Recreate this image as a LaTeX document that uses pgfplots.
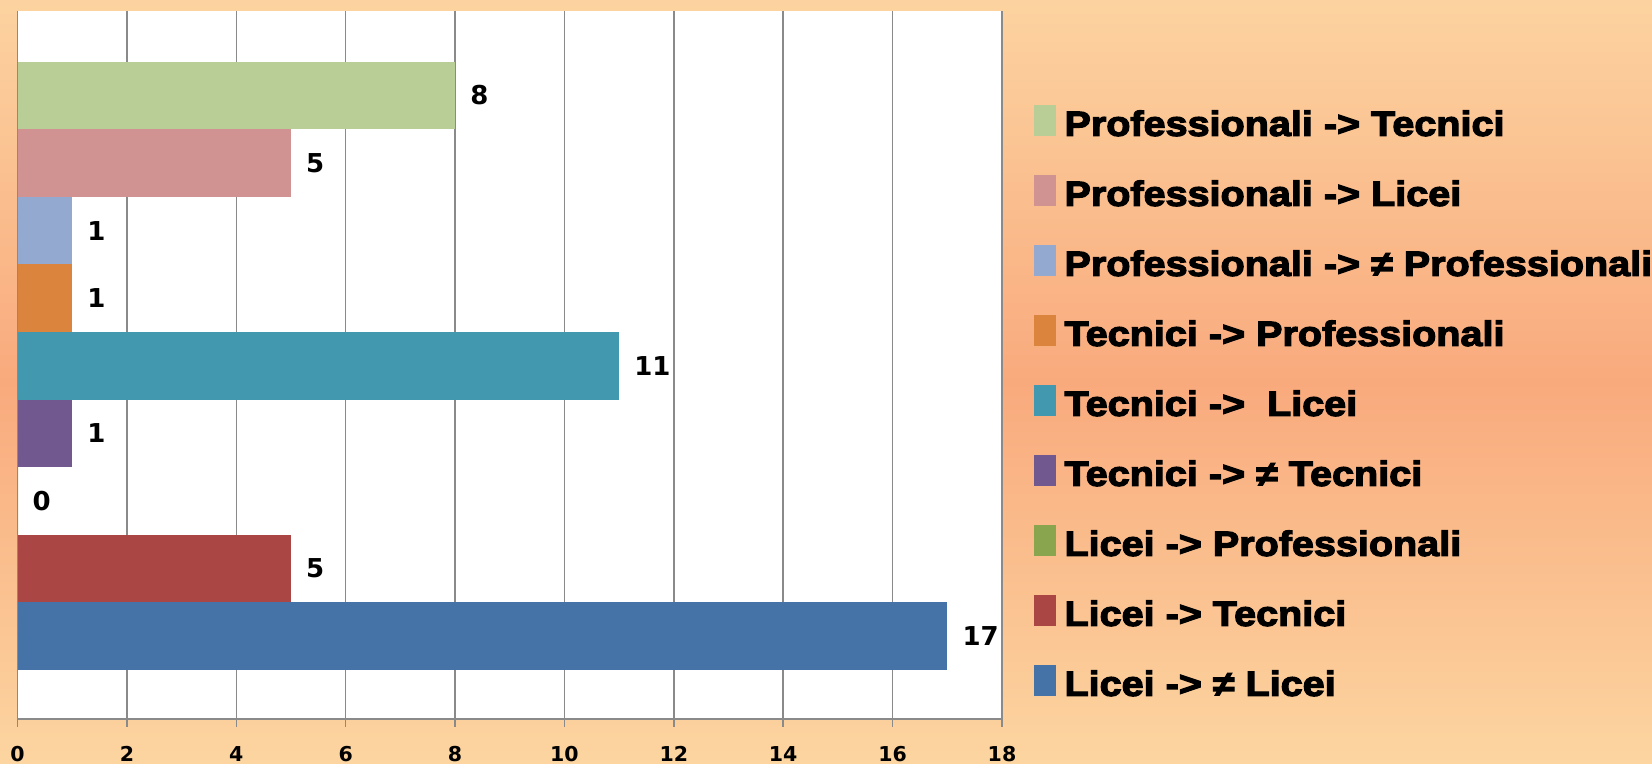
\documentclass[border=0pt]{standalone}
\usepackage{pgfplots}
\pgfplotsset{compat=1.18}
\usepackage{fontspec}
\newfontfamily\dv{DejaVu Sans}
\newfontfamily\lib{Liberation Sans}[BoldFeatures={FakeStretch=1.13,FakeBold=3.5}]
\definecolor{c1}{HTML}{4572A7}
\definecolor{c2}{HTML}{AA4643}
\definecolor{c3}{HTML}{89A54E}
\definecolor{c4}{HTML}{71588F}
\definecolor{c5}{HTML}{4198AF}
\definecolor{c6}{HTML}{DB843D}
\definecolor{c7}{HTML}{93A9CF}
\definecolor{c8}{HTML}{D19392}
\definecolor{c9}{HTML}{B9CD96}
\definecolor{bgtop}{HTML}{FCD3A0}
\definecolor{bgmid}{HTML}{F9AA7D}
\definecolor{bgbot}{HTML}{FCD5A0}
\definecolor{gridgray}{HTML}{8A8A8A}
\begin{document}
\begin{tikzpicture}
\shade[top color=bgtop, bottom color=bgbot, middle color=bgmid] (0,0) rectangle (1652bp,764bp);
\begin{axis}[
  at={(17.5bp,45bp)}, anchor=south west,
  scale only axis, width=984.5bp, height=708bp,
  xmin=0, xmax=18, ymin=0, ymax=10.473,
  xtick={0,2,...,18}, ytick=\empty,
  axis x line*=bottom, axis y line*=left,
  axis line style={draw=gridgray, line width=1.5bp},
  xmajorgrids, major grid style={draw=gridgray, line width=1.5bp},
  tick align=outside, major tick length=8bp,
  tick style={draw=gridgray, line width=1.5bp},
  axis background/.style={fill=white},
  /pgf/number format/assume math mode=true,
  xticklabel style={font=\dv\bfseries\fontsize{20.5bp}{20.5bp}\selectfont, anchor=north, inner sep=0pt, yshift=-19.5bp},
  clip=false,
  mybar/.style={xbar, bar width=1, bar shift=0pt, draw=none, fill=#1,
    point meta=x, nodes near coords,
    nodes near coords style={font=\dv\bfseries\fontsize{26bp}{26bp}\selectfont, inner sep=0pt, anchor=west, xshift=15bp, text=black}},
  legend image code/.code={\path (0bp,-2bp) rectangle (22bp,21bp);
    \fill[#1, overlay] (0bp,-9.9bp) rectangle (22bp,13.1bp);},
  reverse legend,
  legend cell align=left,
  legend style={at={(1.0325,0.8667)}, anchor=north west, draw=none, fill=none,
    inner sep=0pt, outer sep=0pt, row sep=31.5bp,
    font=\lib\bfseries\fontsize{35bp}{35bp}\selectfont,
    nodes={inner sep=0pt, outer sep=0pt, text height=27bp, text depth=8bp},
    /tikz/every odd column/.append style={column sep=8.5bp}},
]
\addplot[mybar=c1] coordinates {(17,1.225)};
\addlegendentry{Licei -> ≠ Licei}
\addplot[mybar=c2] coordinates {(5,2.225)};
\addlegendentry{Licei -> Tecnici}
\addplot[mybar=c3] coordinates {(0,3.225)};
\addlegendentry{Licei -> Professionali}
\addplot[mybar=c4] coordinates {(1,4.225)};
\addlegendentry{Tecnici -> ≠ Tecnici}
\addplot[mybar=c5] coordinates {(11,5.225)};
\addlegendentry{Tecnici ->\ \ Licei}
\addplot[mybar=c6] coordinates {(1,6.225)};
\addlegendentry{Tecnici -> Professionali}
\addplot[mybar=c7] coordinates {(1,7.225)};
\addlegendentry{Professionali -> ≠ Professionali}
\addplot[mybar=c8] coordinates {(5,8.225)};
\addlegendentry{Professionali -> Licei}
\addplot[mybar=c9] coordinates {(8,9.225)};
\addlegendentry{Professionali -> Tecnici}
\end{axis}
\pgfresetboundingbox
\useasboundingbox (0,0) rectangle (1652bp,764bp);
\end{tikzpicture}
\end{document}
